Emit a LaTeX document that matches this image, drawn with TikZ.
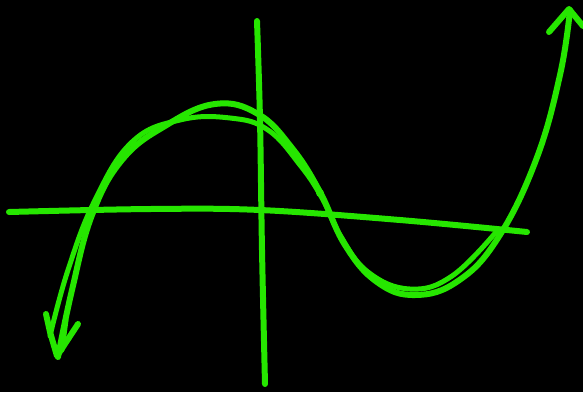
\documentclass[tikz,border=0pt]{standalone}
\usepackage{tikz}
\definecolor{sketchgreen}{RGB}{38,230,0}
\tikzset{
    inkline/.style={draw=sketchgreen, line width=6pt, line cap=round, line join=round},
    thinink/.style={draw=sketchgreen, line width=5pt, line cap=round, line join=round}
}

\begin{document}
\begin{tikzpicture}[x=1pt, y=-1pt]

    % background
    \fill[black] (0,0) rectangle (583,392);
    \useasboundingbox (0,0) rectangle (583,392);

    % Axes
    \draw[inkline] plot[smooth, tension=0.6] coordinates {(9,212) (150,209) (260,210) (400,220) (527,232)};
    \draw[inkline] plot[smooth, tension=0.6] coordinates {(257,21) (260,120) (262,250) (265,384)};

    % Curve, first stroke
    \draw[inkline] plot[smooth, tension=0.7] coordinates {(58,357) (72,290) (92,215) (122,160) (165,126) (215,104) (258,114) (292,148) (320,192) (345,245) (377,282) (415,295) (458,281) (498,238) (536,160) (560,75) (570,10)};

    % Curve, second stroke
    \draw[thinink] plot[smooth, tension=0.7] coordinates {(50,336) (68,270) (95,200) (132,142) (180,120) (230,118) (268,130) (300,165) (322,198) (340,235) (368,272) (410,289) (452,276) (496,232)};

    % Arrowhead, bottom left
    \draw[inkline] (46,314) -- (50,332) -- (57,356) -- (78,324);
    \draw[thinink] (62,350) -- (66,320);

    % Arrowhead, top right
    \draw[inkline] (549,32) -- (569,9) -- (583,26);
    \fill[sketchgreen] (320,193) circle[radius=4pt];

\end{tikzpicture}
\end{document}
